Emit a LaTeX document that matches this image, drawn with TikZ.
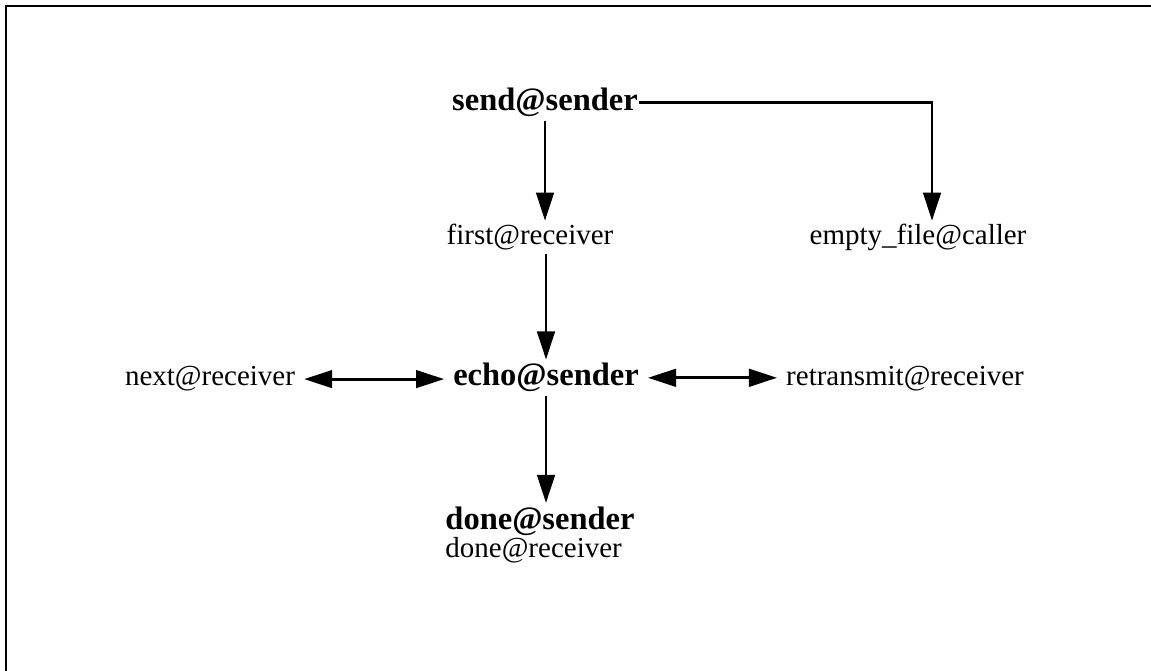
\documentclass[tikz,border=0pt]{standalone}
\usepackage{fontspec}
\setmainfont{Liberation Serif}
\usetikzlibrary{arrows.meta,calc}
\tikzset{
	lbl/.style={anchor=base, inner xsep=5pt, inner ysep=2pt, font=\fontsize{16.5}{18}\selectfont},
	blbl/.style={lbl, font=\fontsize{18.5}{20}\selectfont\bfseries},
	arr/.style={line width=1.6pt, -{Triangle[length=16pt,width=10pt]}},
	darr/.style={line width=1.6pt, {Triangle[length=16pt,width=10pt]}-{Triangle[length=16pt,width=10pt]}}
}
\begin{document}
\begin{tikzpicture}[x=0.02cm, y=-0.02cm]
	\useasboundingbox (0, 0) rectangle (1151, 671);
	\draw[line width=1.4pt] (1151, 6) -- (6, 6) -- (6, 671);
	\node[blbl, inner xsep=0.5pt] at (545, 111) (send) {send@sender};
	\node[lbl] at (530, 245) (first) {first@receiver};
	\node[lbl] at (918, 245) (empty) {empty\_file@caller};
	\node[lbl] at (210, 386) (next) {next@receiver};
	\node[blbl] at (546, 386) (echo) {echo@sender};
	\node[lbl] at (905, 386) (retr) {retransmit@receiver};
	\node[lbl, anchor=north, align=left] at (540, 503) (done) {{\fontsize{18.5}{20}\selectfont\bfseries done@sender}\\[-2pt]done@receiver};
	\draw[arr] (send) -- (send |- first.north);
	\draw[arr] (send.east) -| ($(empty.north)+(14, 0)$);
	\draw[arr] (echo |- first.south) -- (echo);
	\draw[darr] (next.east) -- (next.east -| echo.west);
	\draw[darr] (echo.east) -- (echo.east -| retr.west);
	\draw[arr] (echo) -- (echo |- done.north);
\end{tikzpicture}
\end{document}
